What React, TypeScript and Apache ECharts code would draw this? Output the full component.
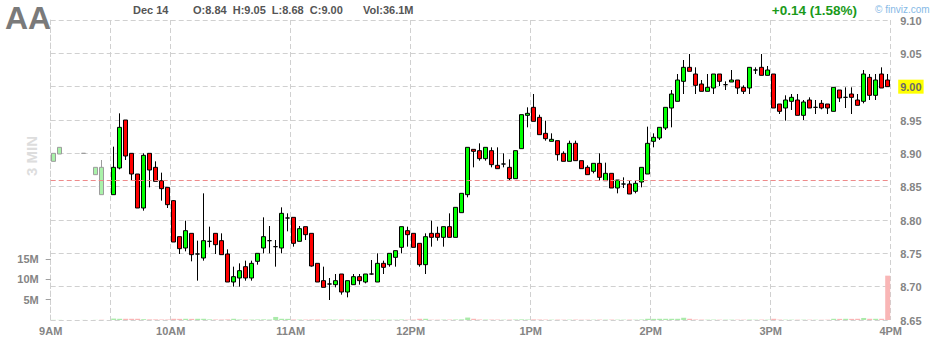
import React, { useEffect, useRef } from 'react';
import * as echarts from 'echarts';

// Session info
const ticker = 'AA';
const sessionDate = 'Dec 14';
const prevClose = 8.86;
const dailyVolume = 36.1e6;
const sessionOpenIndex = 10; // 9:30 bar

// 3-minute bars from 9:00 to 15:57, [open, close, low, high]; null = no trades
const candles: ([number, number, number, number] | null)[] = [
  [8.888, 8.900, 8.888, 8.900], [8.899, 8.909, 8.899, 8.909], null, null, null,
  [8.900, 8.900, 8.900, 8.900], null, [8.868, 8.879, 8.868, 8.879], [8.879, 8.838, 8.838, 8.890], null,
  [8.838, 8.879, 8.838, 8.910], [8.878, 8.939, 8.876, 8.960], [8.950, 8.896, 8.890, 8.950], [8.900, 8.869, 8.860, 8.900], [8.869, 8.818, 8.818, 8.869],
  [8.818, 8.897, 8.814, 8.900], [8.900, 8.875, 8.849, 8.900], [8.879, 8.858, 8.858, 8.888], [8.859, 8.847, 8.829, 8.871], [8.849, 8.823, 8.818, 8.849],
  [8.829, 8.767, 8.767, 8.830], [8.775, 8.757, 8.749, 8.775], [8.758, 8.784, 8.753, 8.799], [8.780, 8.748, 8.738, 8.780], [8.749, 8.749, 8.709, 8.769],
  [8.743, 8.769, 8.739, 8.840], [8.768, 8.768, 8.759, 8.790], [8.780, 8.763, 8.749, 8.780], [8.769, 8.748, 8.748, 8.780], [8.749, 8.707, 8.707, 8.756],
  [8.707, 8.715, 8.700, 8.730], [8.713, 8.724, 8.700, 8.735], [8.730, 8.713, 8.709, 8.739], [8.713, 8.735, 8.709, 8.739], [8.738, 8.750, 8.733, 8.750],
  [8.758, 8.775, 8.750, 8.804], [8.769, 8.769, 8.750, 8.791], [8.760, 8.760, 8.730, 8.770], [8.758, 8.810, 8.750, 8.819], [8.803, 8.803, 8.783, 8.810],
  [8.804, 8.765, 8.760, 8.804], [8.768, 8.787, 8.768, 8.791], [8.790, 8.778, 8.770, 8.790], [8.780, 8.731, 8.730, 8.780], [8.735, 8.707, 8.707, 8.735],
  [8.709, 8.699, 8.699, 8.730], [8.704, 8.704, 8.680, 8.713], [8.703, 8.709, 8.699, 8.719], [8.719, 8.692, 8.688, 8.719], [8.692, 8.709, 8.684, 8.709],
  [8.703, 8.715, 8.703, 8.719], [8.715, 8.709, 8.703, 8.719], [8.707, 8.719, 8.705, 8.719], [8.719, 8.719, 8.718, 8.740], [8.707, 8.735, 8.707, 8.750],
  [8.735, 8.729, 8.719, 8.739], [8.733, 8.750, 8.730, 8.750], [8.744, 8.754, 8.730, 8.754], [8.759, 8.790, 8.750, 8.790], [8.784, 8.778, 8.760, 8.790],
  [8.780, 8.759, 8.759, 8.780], [8.765, 8.733, 8.730, 8.765], [8.733, 8.775, 8.719, 8.780], [8.780, 8.774, 8.760, 8.799], [8.780, 8.774, 8.769, 8.790],
  [8.774, 8.790, 8.760, 8.790], [8.790, 8.774, 8.774, 8.810], [8.774, 8.819, 8.774, 8.819], [8.811, 8.840, 8.811, 8.840], [8.838, 8.909, 8.834, 8.909],
  [8.906, 8.903, 8.879, 8.906], [8.904, 8.892, 8.889, 8.915], [8.892, 8.909, 8.889, 8.909], [8.904, 8.883, 8.879, 8.909], [8.882, 8.877, 8.877, 8.909],
  [8.884, 8.884, 8.879, 8.900], [8.879, 8.862, 8.859, 8.891], [8.862, 8.904, 8.862, 8.904], [8.907, 8.958, 8.907, 8.958], [8.957, 8.960, 8.939, 8.969],
  [8.969, 8.948, 8.948, 8.989], [8.954, 8.928, 8.928, 8.958], [8.930, 8.922, 8.919, 8.949], [8.918, 8.921, 8.918, 8.930], [8.919, 8.898, 8.889, 8.919],
  [8.900, 8.888, 8.888, 8.903], [8.888, 8.915, 8.888, 8.919], [8.915, 8.889, 8.889, 8.919], [8.889, 8.877, 8.877, 8.889], [8.879, 8.868, 8.868, 8.882],
  [8.873, 8.885, 8.870, 8.885], [8.885, 8.864, 8.859, 8.900], [8.859, 8.870, 8.859, 8.886], [8.870, 8.848, 8.848, 8.870], [8.848, 8.860, 8.840, 8.860],
  [8.854, 8.854, 8.848, 8.864], [8.854, 8.839, 8.839, 8.860], [8.843, 8.855, 8.840, 8.860], [8.857, 8.879, 8.849, 8.879], [8.869, 8.915, 8.869, 8.940],
  [8.918, 8.924, 8.909, 8.930], [8.923, 8.939, 8.920, 8.939], [8.938, 8.969, 8.935, 8.969], [8.968, 8.989, 8.939, 8.995], [8.978, 9.010, 8.978, 9.019],
  [9.008, 9.029, 8.989, 9.040], [9.029, 9.023, 9.023, 9.049], [9.019, 9.002, 8.989, 9.029], [9.004, 8.993, 8.993, 9.010], [8.993, 8.999, 8.993, 9.019],
  [8.998, 9.019, 8.989, 9.019], [9.019, 9.008, 9.001, 9.019], [9.003, 9.003, 8.995, 9.008], [9.007, 9.010, 9.007, 9.025], [9.010, 8.998, 8.989, 9.010],
  [8.999, 8.993, 8.989, 9.002], [8.998, 9.029, 8.989, 9.029], [9.025, 9.025, 9.019, 9.029], [9.029, 9.017, 9.017, 9.049], [9.017, 9.025, 9.017, 9.031],
  [9.019, 8.968, 8.968, 9.019], [8.974, 8.963, 8.959, 8.974], [8.968, 8.980, 8.949, 8.987], [8.978, 8.984, 8.965, 8.989], [8.980, 8.957, 8.957, 8.989],
  [8.957, 8.977, 8.950, 8.980], [8.980, 8.968, 8.968, 8.984], [8.969, 8.969, 8.959, 8.980], [8.975, 8.968, 8.966, 8.980], [8.974, 8.968, 8.959, 8.974],
  [8.963, 8.999, 8.963, 8.999], [8.995, 8.983, 8.977, 8.995], [8.984, 8.984, 8.968, 8.999], [8.989, 8.984, 8.959, 8.999], [8.980, 8.972, 8.972, 8.989],
  [8.978, 9.019, 8.975, 9.025], [9.014, 8.987, 8.980, 9.019], [8.987, 9.010, 8.980, 9.019], [9.019, 8.998, 8.998, 9.029], [9.010, 9.000, 9.000, 9.019],
];

// Volume per 3-minute bar, in millions of shares
const volumesM: number[] = [
  0.03, 0.03, 0, 0, 0, 0.02, 0, 0.03, 0.06, 0,
  0.35, 0.3, 0.3, 0.3, 0.3, 0.2, 0.15, 0.15, 0.12, 0.12,
  0.3, 0.28, 0.3, 0.28, 0.3, 0.3, 0.15, 0.12, 0.12, 0.15,
  0.3, 0.12, 0.1, 0.1, 0.1, 0.15, 0.12, 0.75, 0.3, 0.28,
  0.12, 0.1, 0.1, 0.12, 0.12, 0.1, 0.12, 0.1, 0.12, 0.1,
  0.08, 0.08, 0.08, 0.08, 0.1, 0.08, 0.08, 0.08, 0.12, 0.08,
  0.1, 0.3, 0.3, 0.08, 0.08, 0.1, 0.1, 0.12, 0.15, 0.6,
  0.3, 0.12, 0.1, 0.1, 0.1, 0.08, 0.1, 0.12, 0.15, 0.12,
  0.15, 0.12, 0.1, 0.08, 0.1, 0.08, 0.08, 0.1, 0.08, 0.08,
  0.08, 0.1, 0.08, 0.1, 0.08, 0.08, 0.1, 0.08, 0.12, 0.3,
  0.28, 0.3, 0.3, 0.3, 0.3, 0.55, 0.3, 0.12, 0.1, 0.08,
  0.1, 0.08, 0.08, 0.08, 0.08, 0.08, 0.1, 0.08, 0.1, 0.08,
  0.3, 0.1, 0.08, 0.08, 0.08, 0.08, 0.08, 0.06, 0.06, 0.08,
  0.3, 0.28, 0.3, 0.28, 0.3, 0.5, 0.3, 0.3, 0.3, 10.9,
];

const hourLabels = ['9AM', '10AM', '11AM', '12PM', '1PM', '2PM', '3PM', '4PM'];
const volumeTicks = [5e6, 10e6, 15e6];

const barTimes = candles.map((_, i) => {
  const m = 9 * 60 + 3 * i;
  return `${Math.floor(m / 60)}:${String(m % 60).padStart(2, '0')}`;
});

const FONT = 'Arial, "Liberation Sans", sans-serif';
const GRID_COLOR = '#d0d0d0';
const AXIS_TEXT = '#858585';

export default function App() {
  const ref = useRef<HTMLDivElement>(null);

  useEffect(() => {
    if (!ref.current) return;
    const chart = echarts.init(ref.current, undefined, { renderer: 'svg' });

    const session = candles.slice(sessionOpenIndex).filter(Boolean) as number[][];
    const dayOpen = session[0][0];
    const dayHigh = Math.max(...session.map((c) => c[3]));
    const dayLow = Math.min(...session.map((c) => c[2]));
    const lastClose = session[session.length - 1][1];
    const change = lastClose - prevClose;
    const changePct = (change / prevClose) * 100;

    const preMarketStyle = {
      color: '#a9f2a9',
      color0: '#f4a9a9',
      borderColor: '#9c9c9c',
      borderColor0: '#9c9c9c',
      borderColorDoji: '#9c9c9c',
    };

    const candleData = candles.map((c, i) => {
      if (!c) return ['-', '-', '-', '-'];
      return i < sessionOpenIndex ? { value: c, itemStyle: preMarketStyle } : c;
    });

    const volumeData = volumesM.map((v, i) => {
      const c = candles[i];
      const up = !c || c[1] >= c[0];
      return { value: v * 1e6, itemStyle: { color: up ? '#aaeaaa' : '#f9b6b6' } };
    });

    const dash = [5, 3];

    chart.setOption({
      animation: false,
      backgroundColor: '#ffffff',
      grid: [
        { left: 50.7, right: 49.3, top: 20, bottom: 20 },
        { left: 50.7, right: 49.3, top: 259, bottom: 20 },
      ],
      xAxis: [
        {
          type: 'category',
          gridIndex: 0,
          data: barTimes,
          boundaryGap: true,
          axisLine: { show: false },
          axisTick: { show: false },
          axisLabel: { show: false },
          splitLine: {
            show: true,
            interval: (i: number) => i === 0 || i === sessionOpenIndex || i % 20 === 0,
            lineStyle: { color: GRID_COLOR, type: dash },
          },
        },
        {
          type: 'value',
          gridIndex: 0,
          position: 'bottom',
          min: 0,
          max: 420,
          interval: 60,
          axisLine: { show: false },
          axisTick: { show: false },
          splitLine: { show: false },
          axisLabel: {
            formatter: (v: number) => hourLabels[Math.round(v / 60)] ?? '',
            color: AXIS_TEXT,
            fontFamily: FONT,
            fontSize: 11,
            fontWeight: 'bold',
            margin: 5,
          },
        },
        {
          type: 'category',
          gridIndex: 1,
          data: barTimes,
          boundaryGap: true,
          show: false,
        },
      ],
      yAxis: [
        {
          type: 'value',
          gridIndex: 0,
          position: 'right',
          min: 8.65,
          max: 9.1,
          interval: 0.05,
          axisLine: { show: true, lineStyle: { color: GRID_COLOR, type: dash } },
          axisTick: { show: false },
          splitLine: { show: true, lineStyle: { color: GRID_COLOR, type: dash } },
          axisLabel: {
            margin: 7.5,
            formatter: (v: number) =>
              Math.abs(v - lastClose) < 1e-6 ? `{hl|${v.toFixed(2)}}` : `{n|${v.toFixed(2)}}`,
            rich: {
              n: {
                color: AXIS_TEXT,
                fontFamily: FONT,
                fontSize: 11,
                fontWeight: 'bold',
                padding: [2, 2, 1, 2],
              },
              hl: {
                color: '#6a6a6a',
                backgroundColor: '#ffff00',
                fontFamily: FONT,
                fontSize: 11,
                fontWeight: 'bold',
                padding: [2, 2, 1, 2],
              },
            },
          },
        },
        {
          type: 'value',
          gridIndex: 1,
          position: 'left',
          min: 0,
          max: 15e6,
          interval: 5e6,
          axisLine: { show: false },
          splitLine: { show: false },
          axisTick: {
            show: true,
            length: 5,
            customValues: volumeTicks,
            lineStyle: { color: '#a0a0a0' },
          },
          axisLabel: {
            customValues: volumeTicks,
            formatter: (v: number) => (v === 0 ? '' : `${v / 1e6}M`),
            color: AXIS_TEXT,
            fontFamily: FONT,
            fontSize: 11,
            fontWeight: 'bold',
            margin: 12,
          },
        },
      ],
      series: [
        {
          type: 'bar',
          xAxisIndex: 2,
          yAxisIndex: 1,
          data: volumeData,
          barWidth: 5,
          silent: true,
        },
        {
          type: 'candlestick',
          xAxisIndex: 0,
          yAxisIndex: 0,
          barWidth: 4,
          data: candleData,
          itemStyle: {
            color: '#00ff00',
            color0: '#ff0000',
            borderColor: '#000000',
            borderColor0: '#000000',
            borderColorDoji: '#000000',
            borderWidth: 1,
          },
          markLine: {
            silent: true,
            symbol: 'none',
            label: { show: false },
            lineStyle: { color: '#ee8a8a', type: dash, width: 1 },
            data: [{ yAxis: prevClose }],
          },
        },
      ],
      graphic: [
        {
          type: 'text',
          left: 5,
          top: 2,
          style: { text: ticker, font: `bold 32px ${FONT}`, fill: '#7a7a7a' },
        },
        {
          type: 'text',
          left: 133,
          top: 4,
          style: { text: sessionDate, font: `bold 11px ${FONT}`, fill: '#555555' },
        },
        {
          type: 'text',
          left: 193,
          top: 4,
          style: {
            text: `O:${dayOpen.toFixed(2)}  H:${dayHigh.toFixed(2)}  L:${dayLow.toFixed(2)}  C:${lastClose.toFixed(2)}`,
            font: `bold 11px ${FONT}`,
            fill: '#555555',
          },
        },
        {
          type: 'text',
          left: 363,
          top: 4,
          style: { text: `Vol:${(dailyVolume / 1e6).toFixed(1)}M`, font: `bold 11px ${FONT}`, fill: '#555555' },
        },
        {
          type: 'text',
          right: 83,
          top: 3,
          style: {
            text: `${change >= 0 ? '+' : ''}${change.toFixed(2)} (${changePct.toFixed(2)}%)`,
            font: `bold 13.5px ${FONT}`,
            fill: '#1a9a1a',
          },
        },
        {
          type: 'text',
          left: 875,
          top: 4,
          style: { text: '\u00a9 finviz.com', font: `10px ${FONT}`, fill: '#86b9e6' },
        },
        {
          type: 'text',
          x: 31,
          y: 156,
          rotation: Math.PI / 2,
          style: {
            text: '3 MIN',
            font: `bold 15px ${FONT}`,
            fill: '#dddddd',
            align: 'center',
            verticalAlign: 'middle',
            textAlign: 'center',
            textVerticalAlign: 'middle',
          },
        },
      ],
    });

    return () => chart.dispose();
  }, []);

  return (
    <div
      ref={ref}
      style={{ position: 'fixed', left: 0, top: 0, width: 940, height: 340, background: '#fff' }}
    />
  );
}
